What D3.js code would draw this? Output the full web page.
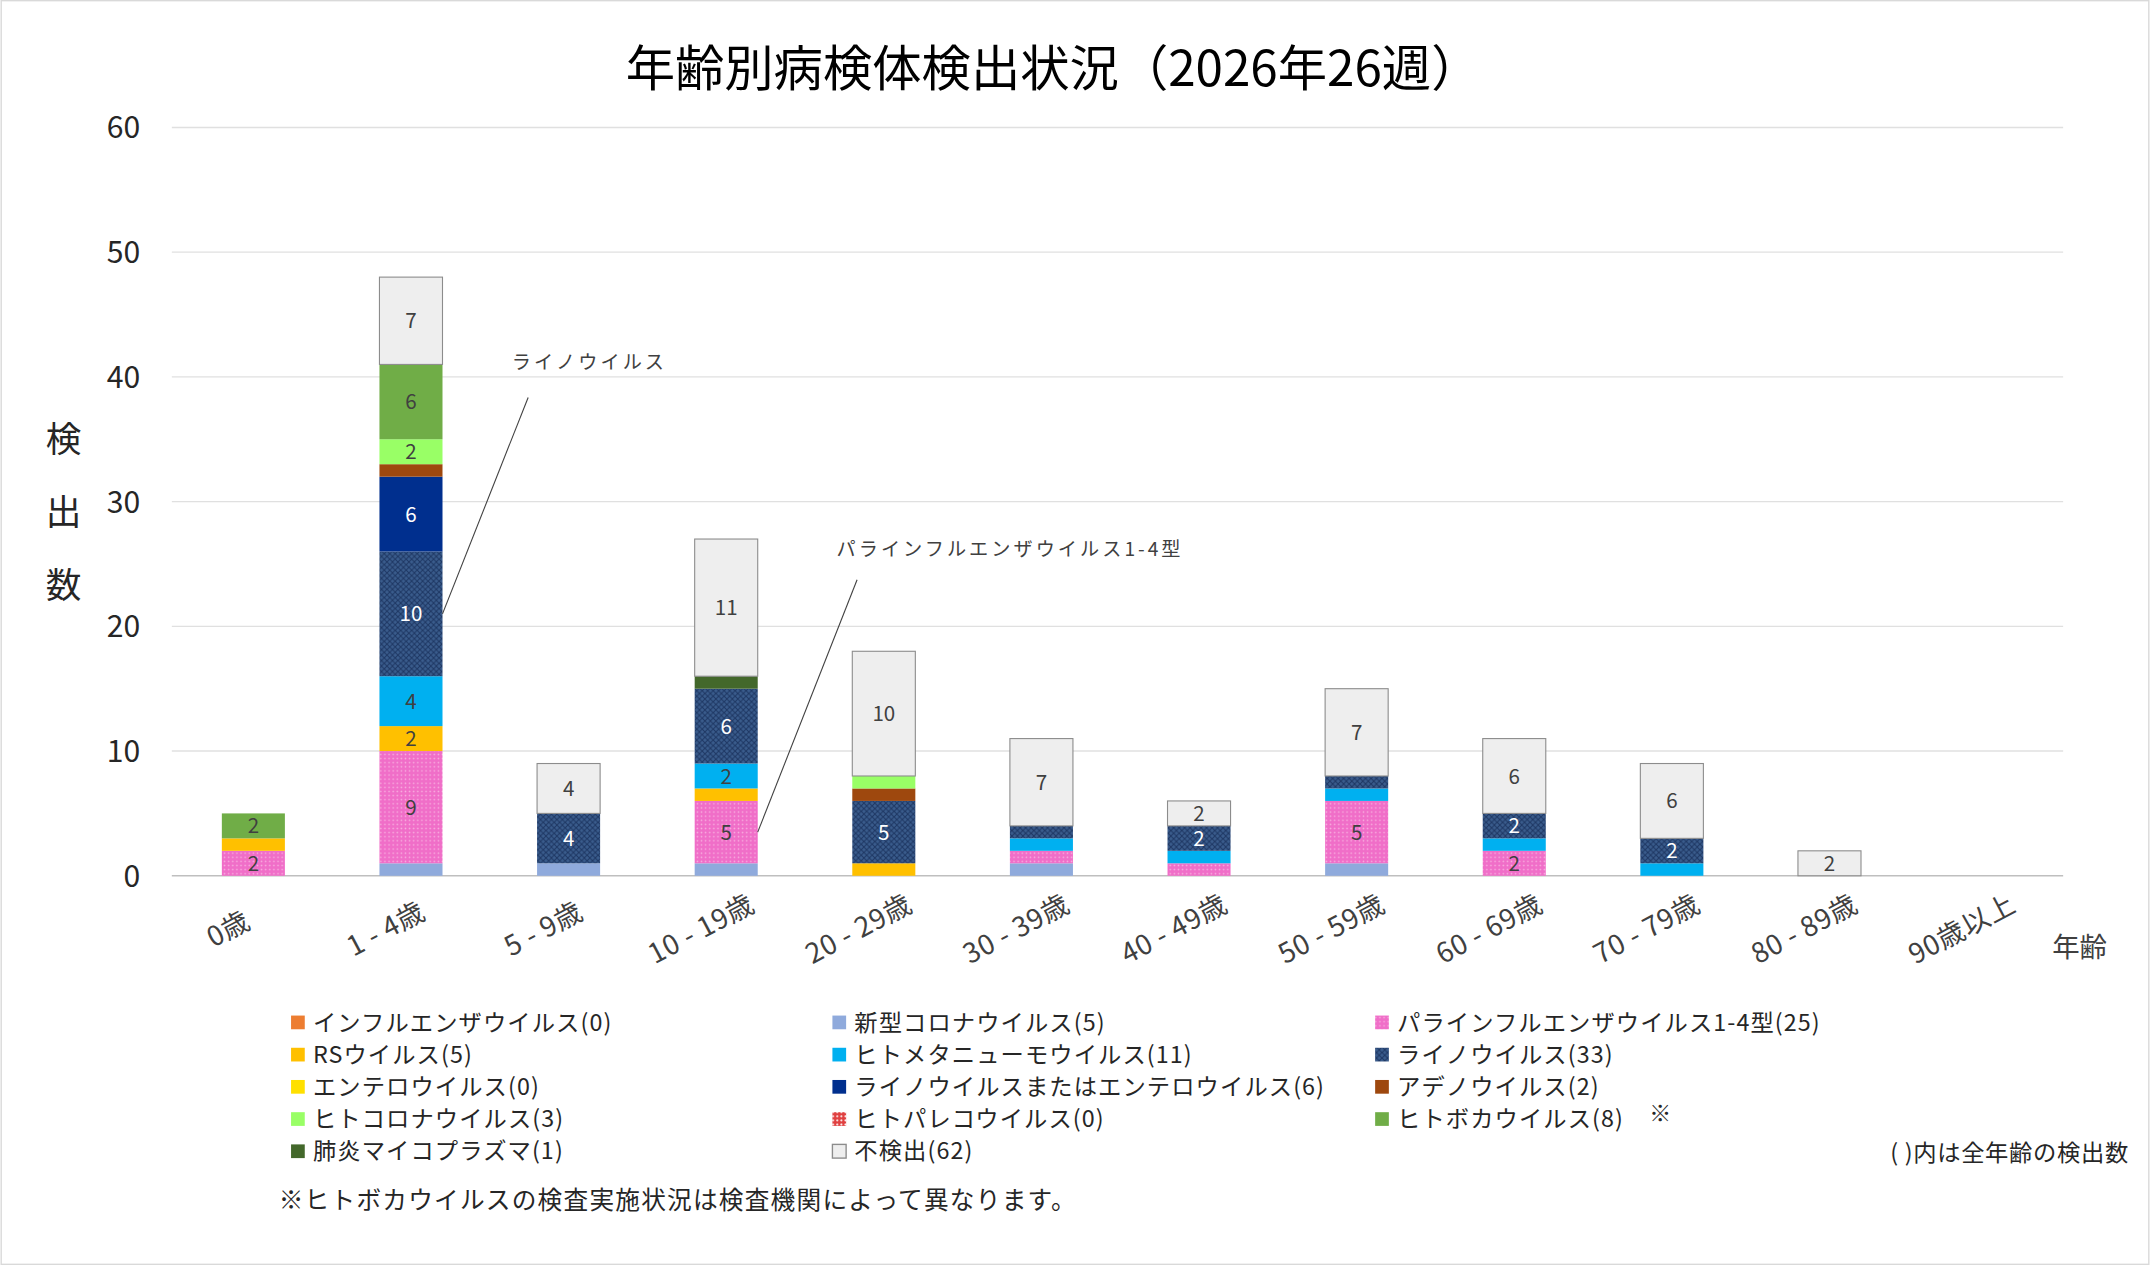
<!DOCTYPE html>
<html><head><meta charset="utf-8">
<script src="https://cdn.jsdelivr.net/npm/d3@7"></script>
<style>body{margin:0;background:#fff}svg{display:block}text{font-family:"Noto Sans CJK JP","Noto Sans",sans-serif}</style>
</head><body><svg id="c" width="2150" height="1265" viewBox="0 0 1568 923"></svg>
<script>
const categories=["0歳","1 - 4歳","5 - 9歳","10 - 19歳","20 - 29歳","30 - 39歳","40 - 49歳","50 - 59歳","60 - 69歳","70 - 79歳","80 - 89歳","90歳以上"];
const seriesNames=["インフルエンザウイルス","新型コロナウイルス","パラインフルエンザウイルス1-4型","RSウイルス","ヒトメタニューモウイルス","ライノウイルス","エンテロウイルス","ライノウイルスまたはエンテロウイルス","アデノウイルス","ヒトコロナウイルス","ヒトパレコウイルス","ヒトボカウイルス","肺炎マイコプラズマ","不検出"];
const seriesColors=["#ED7D31","#8FAADC","#F06EC8","#FFC000","#00B0F0","url(#rh)","#FFE000","#002F8E","#9E480E","#99FF66","#E04040","#70AD47","#43682B","#EEEEEE"];
const v_flu=[0,0,0,0,0,0,0,0,0,0,0,0];
const v_cov=[0,1,1,1,0,1,0,1,0,0,0,0];
const v_para=[2,9,0,5,0,1,1,5,2,0,0,0];
const v_rs=[1,2,0,1,1,0,0,0,0,0,0,0];
const v_hmpv=[0,4,0,2,0,1,1,1,1,1,0,0];
const v_rhino=[0,10,4,6,5,1,2,1,2,2,0,0];
const v_entero=[0,0,0,0,0,0,0,0,0,0,0,0];
const v_re=[0,6,0,0,0,0,0,0,0,0,0,0];
const v_adeno=[0,1,0,0,1,0,0,0,0,0,0,0];
const v_hcov=[0,2,0,0,1,0,0,0,0,0,0,0];
const v_parecho=[0,0,0,0,0,0,0,0,0,0,0,0];
const v_boca=[2,6,0,0,0,0,0,0,0,0,0,0];
const v_myco=[0,0,0,1,0,0,0,0,0,0,0,0];
const v_none=[0,7,4,11,10,7,2,7,6,6,2,0];
const series=[v_flu,v_cov,v_para,v_rs,v_hmpv,v_rhino,v_entero,v_re,v_adeno,v_hcov,v_parecho,v_boca,v_myco,v_none];
const totals=[0,5,25,5,11,33,0,6,2,3,0,8,1,62];
const yTicks=[0,10,20,30,40,50,60];

const svg=d3.select("#c");
const defs=svg.append("defs");
const pr=defs.append("pattern").attr("id","rh").attr("width",4).attr("height",4).attr("patternUnits","userSpaceOnUse");
pr.append("rect").attr("width",4).attr("height",4).attr("fill","#3A5C8C");
pr.append("path").attr("d","M0,0L4,4M4,0L0,4").attr("stroke","#1F3864").attr("stroke-width",0.8);
const pp=defs.append("pattern").attr("id","pa").attr("width",3).attr("height",3).attr("patternUnits","userSpaceOnUse");
pp.append("rect").attr("width",3).attr("height",3).attr("fill","#F06EC8");
pp.append("circle").attr("cx",1.5).attr("cy",1.5).attr("r",0.6).attr("fill","#F8B0E0");
seriesColors[2]="url(#pa)";
const pe=defs.append("pattern").attr("id","pe").attr("width",3).attr("height",3).attr("patternUnits","userSpaceOnUse");
pe.append("rect").attr("width",3).attr("height",3).attr("fill","#E04040");
pe.append("circle").attr("cx",1.5).attr("cy",1.5).attr("r",0.7).attr("fill","#fff");
seriesColors[10]="url(#pe)";

svg.append("rect").attr("x",0.5).attr("y",0.5).attr("width",1567).attr("height",922).attr("fill","#fff").attr("stroke","#d9d9d9");

const x=d3.scaleBand().domain(categories).range([127,1507]).paddingInner(0.6).paddingOuter(0.3);
const y=d3.scaleLinear().domain([0,60]).range([639,93]);

svg.append("g").selectAll("line").data(yTicks).join("line")
 .attr("x1",125).attr("x2",1505).attr("y1",d=>y(d)).attr("y2",d=>y(d)).attr("stroke",d=>d===0?"#bfbfbf":"#e0e0e0");
svg.append("g").selectAll("text").data(yTicks).join("text")
 .attr("x",102).attr("y",d=>y(d)+8).attr("text-anchor","end").attr("font-size",22).attr("fill","#262626").text(d=>d);

svg.append("text").attr("x",768).attr("y",63).attr("text-anchor","middle").attr("font-size",36).attr("fill","#000").text("年齢別病検体検出状況（2026年26週）");
["検","出","数"].forEach((c,i)=>svg.append("text").attr("x",46).attr("y",330+i*53).attr("text-anchor","middle").attr("font-size",26).attr("fill","#262626").text(c));
svg.append("text").attr("x",1517).attr("y",698).attr("text-anchor","middle").attr("font-size",20).attr("fill","#404040").text("年齢");

const bw=x.bandwidth();
categories.forEach((c,ci)=>{
  let acc=0;
  series.forEach((s,si)=>{
    const v=s[ci]; if(!v) return;
    const y0=y(acc), y1=y(acc+v);
    svg.append("rect").attr("x",x(c)).attr("y",y1).attr("width",bw).attr("height",y0-y1)
      .attr("fill",seriesColors[si]).attr("stroke",si===13?"#8c8c8c":"none").attr("stroke-width",0.8);
    if(v>=2){
      svg.append("text").attr("x",x(c)+bw/2).attr("y",(y0+y1)/2+5.5).attr("text-anchor","middle")
       .attr("font-size",15).attr("fill",(si===5||si===7)?"#fff":"#404040").text(v);
    }
    acc+=v;
  });
  const tx=x(c)+bw/2-15, ty=684;
  svg.append("text").attr("transform",`translate(${tx},${ty}) rotate(-28)`).attr("text-anchor","middle")
   .attr("font-size",20).attr("letter-spacing",0.5).attr("fill","#404040").text(c);
});

// annotations
const ann=[{t:"ライノウイルス",tx:373,ty:269,x1:385,y1:290,c:"1 - 4歳",v:21},
           {t:"パラインフルエンザウイルス1-4型",tx:610,ty:406,x1:625,y1:423,c:"10 - 19歳",v:3.5}];
ann.forEach(a=>{
  svg.append("text").attr("x",a.tx).attr("y",a.ty).attr("font-size",14).attr("letter-spacing",2.2).attr("fill","#404040").text(a.t);
  svg.append("line").attr("x1",a.x1).attr("y1",a.y1).attr("x2",x(a.c)+bw).attr("y2",y(a.v)).attr("stroke","#404040").attr("stroke-width",0.8);
});

// legend
const colX=[212,607,1003];
seriesNames.forEach((n,i)=>{
  const col=i%3,row=Math.floor(i/3);
  const lx=colX[col], ly=746+row*23.5;
  svg.append("rect").attr("x",lx).attr("y",ly-5).attr("width",10).attr("height",10).attr("fill",seriesColors[i]).attr("stroke",i===13?"#8c8c8c":"none");
  svg.append("text").attr("x",lx+16).attr("y",ly+6).attr("font-size",17).attr("letter-spacing",0.8).attr("fill","#262626").text(`${n}(${totals[i]})`);
});
svg.append("text").attr("x",1203).attr("y",818).attr("font-size",16).attr("fill","#262626").text("※");
svg.append("text").attr("x",1553).attr("y",847).attr("text-anchor","end").attr("font-size",17).attr("letter-spacing",0.5).attr("fill","#262626").text("( )内は全年齢の検出数");
svg.append("text").attr("x",203).attr("y",882).attr("font-size",18).attr("letter-spacing",0.9).attr("fill","#262626").text("※ヒトボカウイルスの検査実施状況は検査機関によって異なります。");
</script></body></html>
